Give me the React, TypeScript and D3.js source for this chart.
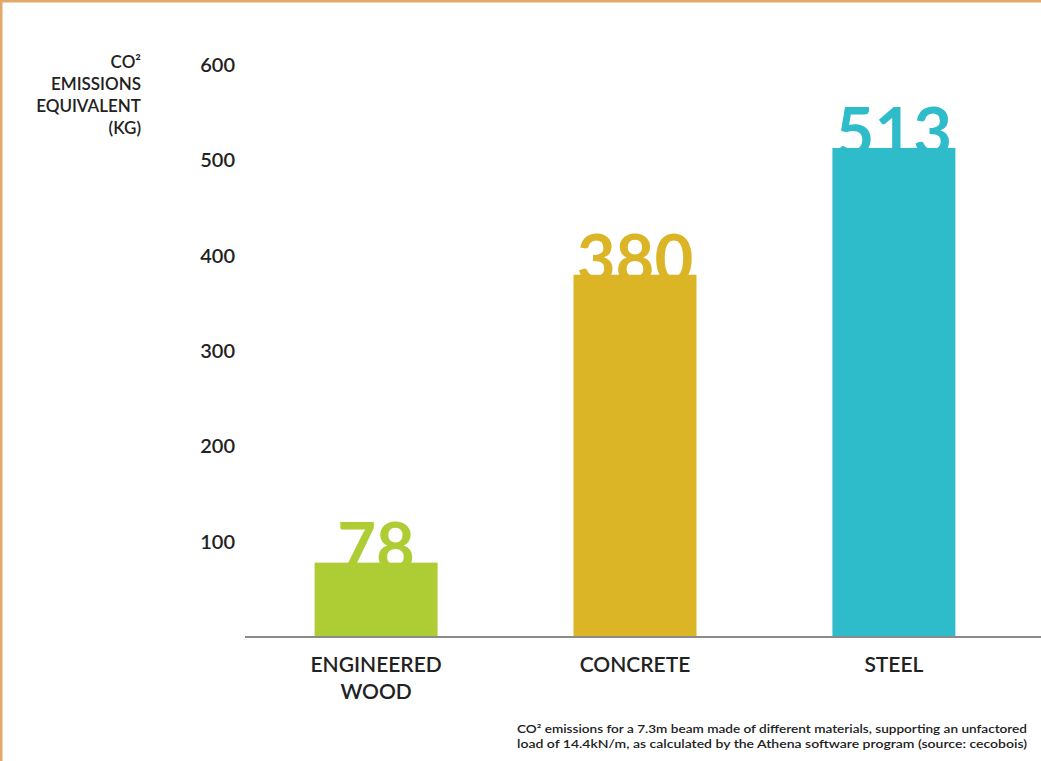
import React from "react";
import * as d3 from "d3";

const categories = ["ENGINEERED|WOOD", "CONCRETE", "STEEL"];
const values = [78, 380, 513];
const barColors = ["#aecc34", "#dbb525", "#2ebcca"];
const yTicks = [100, 200, 300, 400, 500, 600];
const yTitle = ["CO²", "EMISSIONS", "EQUIVALENT", "(KG)"];
const footnote = [
  "CO² emissions for a 7.3m beam made of different materials, supporting an unfactored",
  "load of 14.4kN/m, as calculated by the Athena software program (source: cecobois)",
];

export default function App() {
  const W = 1041, H = 761;
  const x = d3.scaleBand<string>().domain(categories).range([246, 1024]).paddingInner(0.525).paddingOuter(0.265);
  const y = d3.scaleLinear().domain([0, 600]).range([637, 65]);
  const font = "Lato, 'Open Sans', sans-serif";
  return (
    <svg width={W} height={H} style={{ position: "absolute", left: 0, top: 0, background: "#fff" }}>
      <rect x={0} y={0} width={W} height={H} fill="#fff" />
      {/* y-axis title */}
      {yTitle.map((t, i) => (
        <text key={t} x={141} y={68 + i * 22} textAnchor="end" fontFamily={font} fontSize={17} fontWeight={600} fill="#222">
          {t}
        </text>
      ))}
      {/* y tick labels */}
      {yTicks.map((t) => (
        <text key={t} x={235} y={y(t)} dy="0.35em" textAnchor="end" fontFamily={font} fontSize={20} fontWeight={600} fill="#222">
          {t}
        </text>
      ))}
      {/* value labels behind bars */}
      {categories.map((c, i) => (
        <text key={"v" + c} x={x(c)! + x.bandwidth() / 2} y={y(values[i]) + 8} textAnchor="middle" fontFamily={font} fontSize={67} fontWeight={700} fill={barColors[i]}>
          {values[i]}
        </text>
      ))}
      {/* bars */}
      {categories.map((c, i) => (
        <rect key={"b" + c} x={x(c)} y={y(values[i])} width={x.bandwidth()} height={y(0) - y(values[i])} fill={barColors[i]} />
      ))}
      {/* baseline */}
      <line x1={245} x2={W} y1={y(0)} y2={y(0)} stroke="#8a8a8a" strokeWidth={2} />
      {/* category labels */}
      {categories.map((c) =>
        c.split("|").map((line, j) => (
          <text key={c + j} x={x(c)! + x.bandwidth() / 2} y={672 + j * 27} textAnchor="middle" fontFamily={font} fontSize={21} fontWeight={600} fill="#222">
            {line}
          </text>
        ))
      )}
      {/* footnote */}
      {footnote.map((f, i) => (
        <text key={i} x={517} y={733 + i * 15} fontFamily={font} fontSize={11.5} fontWeight={600} fill="#222" textLength={510} lengthAdjust="spacingAndGlyphs">
          {f}
        </text>
      ))}
      {/* frame */}
      <rect x={0} y={0} width={W} height={2.5} fill="#e2aa6a" />
      <rect x={0} y={0} width={2.5} height={H} fill="#e2aa6a" />
    </svg>
  );
}
